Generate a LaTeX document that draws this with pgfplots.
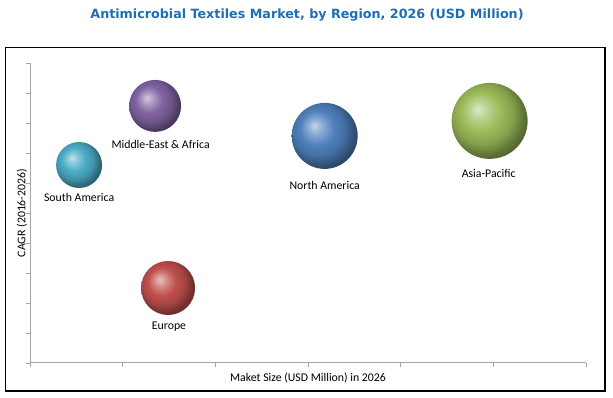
\documentclass[border=0pt]{standalone}
\usepackage{pgfplots}
\pgfplotsset{compat=1.18}
\usepackage{fontspec}
\setmainfont{Carlito}
\newfontfamily\titlefont{DejaVu Sans}
\definecolor{titleblue}{RGB}{31,110,181}
\definecolor{axgray}{RGB}{166,166,166}
\definecolor{cSA}{RGB}{75,172,198}
\definecolor{cMEA}{RGB}{128,100,162}
\definecolor{cEU}{RGB}{192,80,77}
\definecolor{cNA}{RGB}{79,129,189}
\definecolor{cAP}{RGB}{155,187,89}
\newcommand{\defball}[2]{%
 \pgfdeclareradialshading{sh#1}{\pgfqpoint{-8bp}{8bp}}{color(0bp)=(#2!35!white); color(6bp)=(#2!68!white); color(13bp)=(#2); color(20bp)=(#2!86!black); color(26bp)=(#2!62!black); color(32bp)=(#2!46!black); color(50bp)=(#2!40!black)}%
 \pgfdeclareplotmark{ball#1}{\pgfpathcircle{\pgfpointorigin}{\pgfplotmarksize}\pgfshadepath{sh#1}{0}\pgfusepath{discard}}%
}
\defball{SA}{cSA}
\defball{MEA}{cMEA}
\defball{EU}{cEU}
\defball{NA}{cNA}
\defball{AP}{cAP}
\newcommand{\lbl}{\fontsize{11.8}{14}\selectfont}
\begin{document}
\begin{tikzpicture}[x=1pt,y=1pt]
\useasboundingbox (0,0) rectangle (613,398);
\draw[line width=1.2pt] (5.5,7) rectangle (605,350.5);
\node[font=\titlefont\bfseries\fontsize{12.7}{15}\selectfont, text=titleblue] at (307,383) {Antimicrobial Textiles Market, by Region, 2026 (USD Million)};
\begin{axis}[at={(30pt,35pt)}, anchor=south west, scale only axis,
  width=556pt, height=300pt, xmin=0, xmax=6, ymin=0, ymax=10,
  axis lines*=left, xtick={0,1,...,6}, ytick={0,1,...,10},
  xticklabels={}, yticklabels={}, tick align=outside, major tick length=4pt,
  axis line style={color=axgray, line width=1pt},
  tick style={color=axgray, line width=0.8pt}, clip=false]
\addplot[only marks, mark=ballSA, mark size=23] coordinates {(0.53,6.6)};
\addplot[only marks, mark=ballMEA, mark size=26] coordinates {(1.35,8.57)};
\addplot[only marks, mark=ballEU, mark size=27] coordinates {(1.49,2.5)};
\addplot[only marks, mark=ballNA, mark size=33] coordinates {(3.18,7.57)};
\addplot[only marks, mark=ballAP, mark size=38] coordinates {(4.96,8.07)};
\node[font=\lbl] at (axis cs:0.53,5.51) {South America};
\node[font=\lbl] at (axis cs:1.41,7.27) {Middle-East \& Africa};
\node[font=\lbl] at (axis cs:1.50,1.21) {Europe};
\node[font=\lbl] at (axis cs:3.18,5.93) {North America};
\node[font=\lbl] at (axis cs:4.95,6.33) {Asia-Pacific};
\end{axis}
\node[font=\lbl] at (308,20) {Maket Size (USD Million) in 2026};
\node[rotate=90, font=\lbl] at (22,185) {CAGR (2016-2026)};
\end{tikzpicture}
\end{document}
